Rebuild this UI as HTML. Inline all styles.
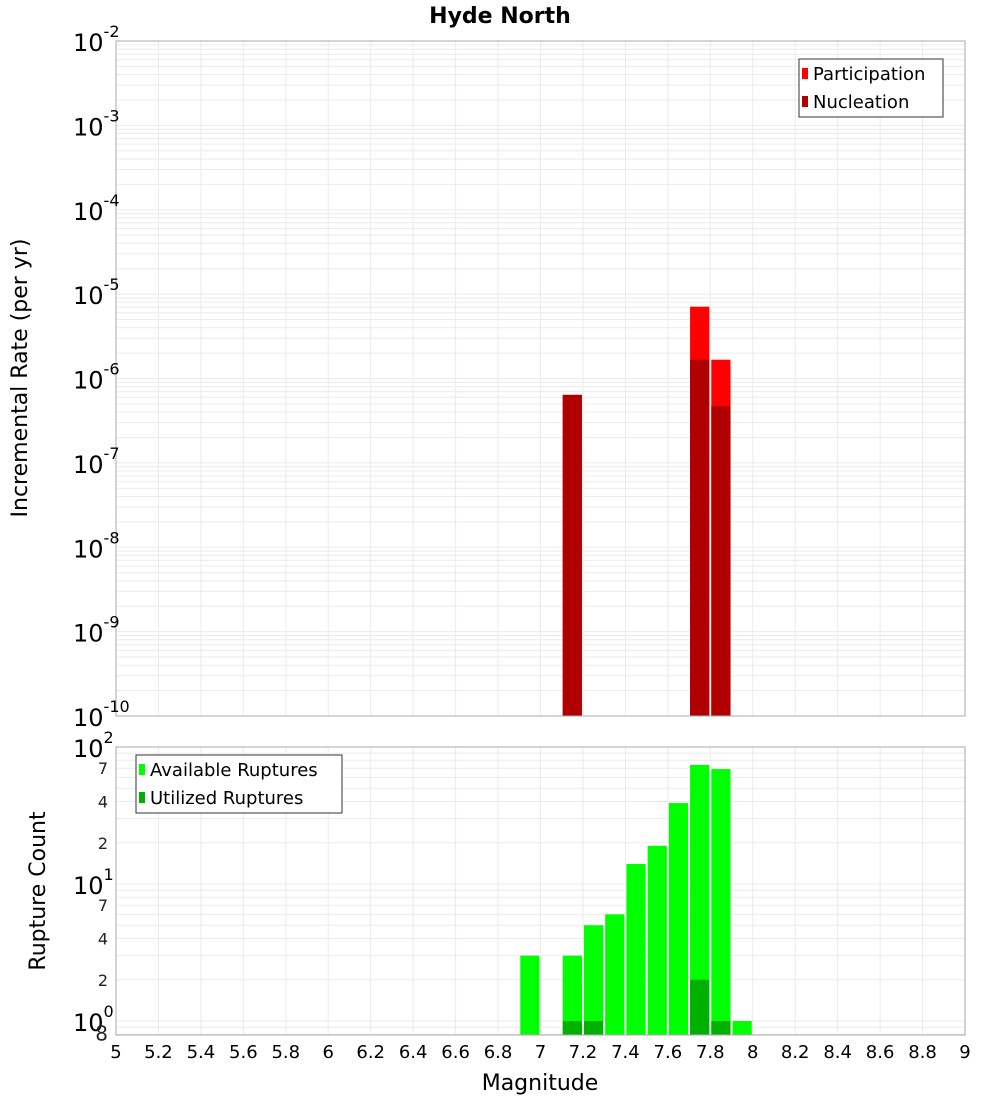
<!DOCTYPE html>
<html><head><meta charset="utf-8"><style>
body{margin:0;background:#fff;font-family:"Liberation Sans","DejaVu Sans",sans-serif}
svg text{font-family:"DejaVu Sans","Liberation Sans",sans-serif}
</style></head><body>
<svg id="c" width="1000" height="1100" xmlns="http://www.w3.org/2000/svg">
<text x="500" y="23" text-anchor="middle" font-size="22" font-weight="bold">Hyde North</text>
<text transform="translate(27,378) rotate(-90)" text-anchor="middle" font-size="22">Incremental Rate (per yr)</text>
<text transform="translate(45,891) rotate(-90)" text-anchor="middle" font-size="22">Rupture Count</text>
<text x="540" y="1090" text-anchor="middle" font-size="22">Magnitude</text>
<g id="g"></g>
</svg>
<script>
const rateMags=[7.15,7.75,7.85];
const participation=[6.4e-7,7.1e-6,1.67e-6];
const nucleation=[6.4e-7,1.67e-6,4.7e-7];
const countMags=[6.95,7.15,7.25,7.35,7.45,7.55,7.65,7.75,7.85,7.95];
const available=[3,3,5,6,14,19,39,74,69,1];
const utilized=[0,1,1,0,0,0,0,2,1,0];
const xTicks=["5","5.2","5.4","5.6","5.8","6","6.2","6.4","6.6","6.8","7","7.2","7.4","7.6","7.8","8","8.2","8.4","8.6","8.8","9"];

const NS="http://www.w3.org/2000/svg";
const g=document.getElementById('g');
function mk(t,a,p){const e=document.createElementNS(NS,t);for(const k in a)e.setAttribute(k,a[k]);(p||g).appendChild(e);return e;}
const L=116,R=965;
const X=m=>L+(m-5)/4*(R-L);
const T0=41,T1=716;const YT=v=>T0+(-2-Math.log10(v))/8*(T1-T0);
const B0=747,B1=1035;const dec=137;const YB=v=>1021-Math.log10(v)*dec;
const bw=(R-L)/40;

// top grid
for(let d=-10;d<-2;d++)for(let k=1;k<10;k++){const y=YT(k*Math.pow(10,d));if(y<T0||y>T1)continue;
 const l=mk('line',{x1:L,x2:R,y1:y,y2:y,stroke:'#ebebeb','stroke-width':1});
 }
// bottom grid
for(let d=-1;d<2;d++)for(let k=1;k<10;k++){const y=YB(k*Math.pow(10,d));if(y<B0||y>B1)continue;
 const l=mk('line',{x1:L,x2:R,y1:y,y2:y,stroke:'#ebebeb','stroke-width':1});
 }
xTicks.forEach(t=>{const x=X(+t);
 for(const [a,b] of [[T0,T1],[B0,B1]]){const l=mk('line',{x1:x,x2:x,y1:a,y2:b,stroke:'#ebebeb'});
 }
 const tx=mk('text',{x:x,y:1058,'text-anchor':'middle','font-size':18});tx.textContent=t;
 });

// top bars
rateMags.forEach((m,i)=>{const x=X(m)-bw/2+1;
 const p=mk('rect',{x:x,y:YT(participation[i]),width:bw-2,height:T1-YT(participation[i]),fill:'#ff0000'});
 
 const n=mk('rect',{x:x,y:YT(nucleation[i]),width:bw-2,height:T1-YT(nucleation[i]),fill:'#b00000'});
 });
// bottom bars
countMags.forEach((m,i)=>{const x=X(m)-bw/2+1;
 if(available[i]>0){const a=mk('rect',{x:x,y:YB(available[i]),width:bw-2,height:B1-YB(available[i]),fill:'#00ff00'});
 }
 if(utilized[i]>0){const u=mk('rect',{x:x,y:YB(utilized[i]),width:bw-2,height:B1-YB(utilized[i]),fill:'#00b000'});
 }});

// frames
for(const [a,b,n] of [[T0,T1,'top-plot-frame'],[B0,B1,'bottom-plot-frame']]){
 const r=mk('rect',{x:L,y:a,width:R-L,height:b-a,fill:'none',stroke:'#aaa'});
 }

// y labels top
for(let d=-10;d<=-2;d++){const y=YT(Math.pow(10,d));
 const t=mk('text',{x:73,y:y+10,'font-size':24});t.textContent='10';
 
 const s=mk('tspan',{dy:-14,'font-size':16},t);s.textContent=String(d);}
// y labels bottom
[0,1,2].forEach(d=>{const y=YB(Math.pow(10,d));
 const t=mk('text',{x:73,y:y+10,'font-size':24});t.textContent='10';
 
 const s=mk('tspan',{dy:-14,'font-size':16},t);s.textContent=String(d);});
[[2,'2'],[4,'4'],[7,'7'],[20,'2'],[40,'4'],[70,'7'],[0.8,'8']].forEach(([v,s])=>{
 const t=mk('text',{x:108,y:YB(v)+6,'text-anchor':'end','font-size':v==0.8?20:16,fill:'#222'});t.textContent=s;
 });

// legends
function legend(x,y,w,items,name){
 const r=mk('rect',{x:x,y:y,width:w,height:58,fill:'#fff',stroke:'#333'});
 
 items.forEach(([c,s],i)=>{const sw=mk('rect',{x:x+3,y:y+9+i*28,width:6,height:11,fill:c});
  
  const t=mk('text',{x:x+14,y:y+21+i*28,'font-size':18});t.textContent=s;
  });}
legend(799,59,144,[['#ff0000','Participation'],['#b00000','Nucleation']],'top-legend');
legend(136,755,206,[['#00ff00','Available Ruptures'],['#00b000','Utilized Ruptures']],'bottom-legend');
</script>
</body></html>
